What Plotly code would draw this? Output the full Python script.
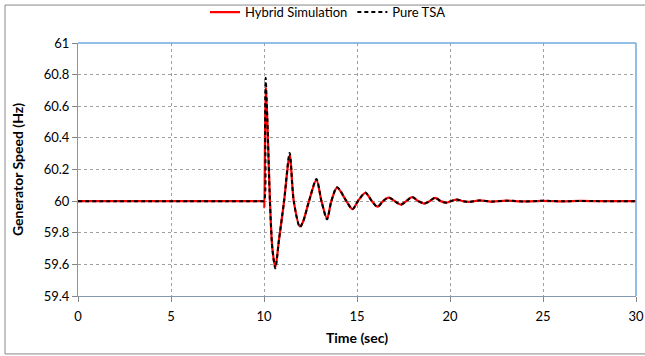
import plotly.graph_objects as go

# ---- data ----
time_hybrid = [0, 2, 4, 6, 8, 9.5, 9.9, 10.0, 10.02, 10.06, 10.1, 10.18, 10.32, 10.45, 10.61, 10.8,
               11.08, 11.38, 11.6, 11.93, 12.1, 12.42, 12.82, 13.09, 13.39, 13.62, 13.93, 14.43,
               14.76, 15.05, 15.45, 15.8, 16.1, 16.4, 16.7, 17.03, 17.35, 17.65, 17.96, 18.3,
               18.6, 18.9, 19.2, 19.5, 19.8, 20.05, 20.36, 20.7, 21.0, 21.6, 22.3, 23.0,
               24.0, 25.0, 26.0, 27.0, 28.0, 29.0, 30.0]
speed_hybrid = [60.0, 60.0, 60.0, 60.0, 60.0, 60.0, 60.0, 60.0, 59.96, 60.45, 60.72, 60.5, 60.0,
                59.7, 59.58, 59.75, 60.0, 60.29, 60.0, 59.84, 59.87, 60.0, 60.135, 60.0, 59.89,
                60.0, 60.085, 60.0, 59.95, 60.0, 60.052, 60.0, 59.965, 60.0, 60.022, 60.0,
                59.978, 60.0, 60.025, 60.0, 59.985, 60.0, 60.021, 60.0, 59.99, 60.0, 60.01,
                60.0, 59.995, 60.004, 59.997, 60.003, 59.998, 60.002, 59.999, 60.001, 60.0,
                60.0, 60.0]

time_tsa = [0, 2, 4, 6, 8, 9.5, 9.9, 10.0, 10.06, 10.09, 10.18, 10.32, 10.45, 10.61, 10.8,
            11.08, 11.38, 11.6, 11.93, 12.1, 12.42, 12.82, 13.09, 13.39, 13.62, 13.93, 14.43,
            14.76, 15.05, 15.45, 15.8, 16.1, 16.4, 16.7, 17.03, 17.35, 17.65, 17.96, 18.3,
            18.6, 18.9, 19.2, 19.5, 19.8, 20.05, 20.36, 20.7, 21.0, 21.6, 22.3, 23.0,
            24.0, 25.0, 26.0, 27.0, 28.0, 29.0, 30.0]
speed_tsa = [60.0, 60.0, 60.0, 60.0, 60.0, 60.0, 60.0, 60.0, 60.5, 60.78, 60.52, 60.0, 59.7,
             59.575, 59.75, 60.0, 60.305, 60.0, 59.835, 59.87, 60.0, 60.14, 60.0, 59.885,
             60.0, 60.088, 60.0, 59.948, 60.0, 60.054, 60.0, 59.963, 60.0, 60.024, 60.0,
             59.977, 60.0, 60.026, 60.0, 59.984, 60.0, 60.022, 60.0, 59.99, 60.0, 60.01,
             60.0, 59.995, 60.004, 59.997, 60.003, 59.998, 60.002, 59.999, 60.001, 60.0,
             60.0, 60.0]

x_ticks = [0, 5, 10, 15, 20, 25, 30]
y_ticks = [59.4, 59.6, 59.8, 60.0, 60.2, 60.4, 60.6, 60.8, 61.0]
y_tick_labels = ["59.4", "59.6", "59.8", "60", "60.2", "60.4", "60.6", "60.8", "61"]

FONT = "Lato"

fig = go.Figure()
fig.add_trace(go.Scatter(x=time_hybrid, y=speed_hybrid, mode="lines", name="Hybrid Simulation",
                         line=dict(color="#ff0000", width=2.25, shape="spline", smoothing=0.8)))
fig.add_trace(go.Scatter(x=time_tsa, y=speed_tsa, mode="lines", name="Pure TSA",
                         line=dict(color="#000000", width=2, dash="4px,3px", shape="spline", smoothing=0.8)))

fig.update_layout(
    width=645, height=356,
    margin=dict(l=78, r=9, t=43, b=60, autoexpand=False),
    paper_bgcolor="white", plot_bgcolor="white",
    font=dict(family=FONT, size=13, color="#000000"),
    showlegend=True,
    legend=dict(orientation="h", x=0.448, xanchor="center", y=1.122, yanchor="middle",
                font=dict(family=FONT, size=13), itemwidth=30, bgcolor="rgba(0,0,0,0)",
                tracegroupgap=0),
    xaxis=dict(range=[0, 30], tickvals=x_ticks, ticks="outside", ticklen=5, tickcolor="#868686",
               showline=True, linecolor="#8497b0", linewidth=1, mirror=False, ticklabelstandoff=3,
               showgrid=True, gridcolor="#a0a0a0", griddash="dot", gridwidth=1, zeroline=False,
               title=dict(text="<b>Time (sec)</b>", font=dict(family=FONT, size=14), standoff=10),
               tickfont=dict(family=FONT, size=13)),
    yaxis=dict(range=[59.4, 61], tickvals=y_ticks, ticktext=y_tick_labels, ticks="outside", ticklen=5,
               tickcolor="#868686", showline=True, linecolor="#8497b0", linewidth=1, mirror=False,
               showgrid=True, gridcolor="#a0a0a0", griddash="dot", gridwidth=1, zeroline=False,
               title=dict(text="<b>Generator Speed (Hz)</b>", font=dict(family=FONT, size=14), standoff=16),
               tickfont=dict(family=FONT, size=13)),
    shapes=[
        dict(type="line", xref="paper", yref="paper", x0=0, x1=1, y0=1, y1=1,
             line=dict(color="#6fa8dc", width=1.5), layer="above"),
        dict(type="line", xref="paper", yref="paper", x0=1, x1=1, y0=0, y1=1,
             line=dict(color="#6fa8dc", width=1.5), layer="above"),
        dict(type="rect", xref="paper", yref="paper", x0=-0.1308, x1=1.03, y0=-0.229, y1=1.15,
             line=dict(color="#888888", width=1), fillcolor="rgba(0,0,0,0)", layer="above"),
    ],
)

fig.write_html("out.html", config={"displayModeBar": False},
               post_script="document.body.style.margin='0';")
